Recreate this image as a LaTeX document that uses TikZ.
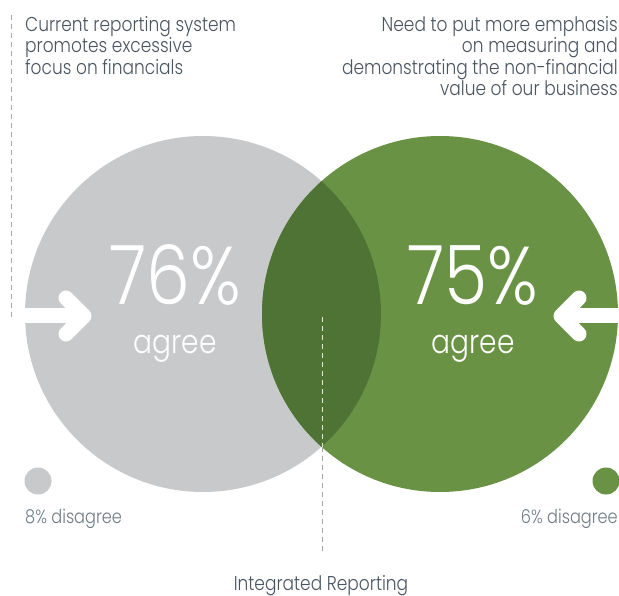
\documentclass[tikz,border=0pt]{standalone}
\usepackage{fontspec}
\setmainfont{Poppins}[UprightFont=* Light, FakeStretch=0.85]
\usetikzlibrary{positioning}
\definecolor{circgray}{HTML}{C8C9CB}
\definecolor{circgreen}{HTML}{6A9244}
\definecolor{lensgreen}{HTML}{4E7335}
\definecolor{headtext}{HTML}{4A5560}
\definecolor{lowtext}{HTML}{6F7B85}
\definecolor{leader}{HTML}{A8A8A8}
\tikzstyle{venn} = [circle, minimum size=356pt, inner sep=0pt]
\tikzstyle{dot} = [circle, minimum size=27pt, inner sep=0pt]
\tikzstyle{head} = [inner sep=0pt, text=headtext, font=\fontsize{20}{21.5}\selectfont]
\tikzstyle{big} = [inner sep=0pt, text=white, font=\fontsize{82}{82}\selectfont]
\tikzstyle{word} = [inner sep=0pt, text=white, font=\fontsize{33}{33}\selectfont]
\tikzstyle{low} = [inner sep=0pt, text=lowtext, font=\fontsize{19}{19}\selectfont]
\tikzstyle{leaderline} = [draw=leader, line width=0.8pt, dash pattern=on 5pt off 4pt]
\tikzstyle{pointer} = [draw=white, line width=15pt, line cap=round, line join=round]

\begin{document}
\begin{tikzpicture}[x=1pt,y=-1pt]
  \useasboundingbox (0,0) rectangle (619,596);
  % circles
  \node[venn, fill=circgray] (gray) at (203,314) {};
  \node[venn, fill=circgreen] (green) at (440,314) {};
  \begin{scope}
    \clip (203,314) circle (178);
    \fill[lensgreen] (440,314) circle (178);
  \end{scope}
  % leaders
  \coordinate (lt) at (11,15);
  \coordinate (lb) at (11,318);
  \draw[leaderline] (lt) -- (lb);
  \coordinate (ct) at (322,317);
  \coordinate (cm) at (322,447);
  \coordinate (cb) at (322,554);
  \draw[leaderline, draw=white!85!lensgreen] (ct) -- (cm);
  \draw[leaderline] (cm) -- (cb);
  % arrows
  \draw[pointer, line cap=butt] (20,316) -- (84,316);
  \draw[pointer] (66,298) -- (84,316) -- (66,334);
  \draw[pointer, line cap=butt] (625,316) -- (561,316);
  \draw[pointer] (579,298) -- (561,316) -- (579,334);
  % texts
  \node[head, anchor=north west, align=left] (lefthead) at (25,16)
    {Current reporting system\\promotes excessive\\focus on financials};
  \node[head, anchor=north east, align=right] (righthead) at (618,16)
    {Need to put more emphasis\\on measuring and\\demonstrating the non-financial\\value of our business};
  \node[big, anchor=base] (leftnum) at (175,305) {76\%};
  \node[word, anchor=base] (leftword) at (175,353) {agree};
  \node[big, anchor=base] (rightnum) at (473,305) {75\%};
  \node[word, anchor=base] (rightword) at (473,353) {agree};
  \node[dot, fill=circgray] (leftdot) at (38,481) {};
  \node[dot, fill=circgreen] (rightdot) at (606,481) {};
  \node[low, anchor=base west] (leftlow) at (25,523) {8\% disagree};
  \node[low, anchor=base east] (rightlow) at (618,523) {6\% disagree};
  \node[head, anchor=base] (bottom) at (321,590) {Integrated Reporting};
\end{tikzpicture}
\end{document}
